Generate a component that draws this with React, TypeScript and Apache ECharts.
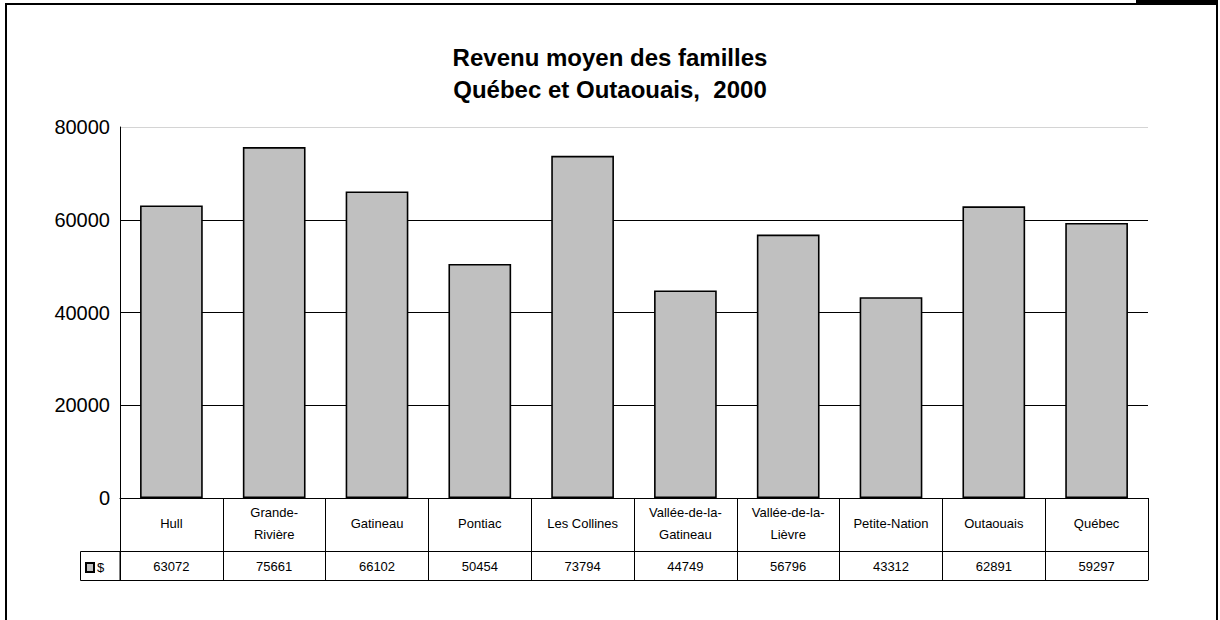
import React, { useEffect, useRef } from "react";
import * as echarts from "echarts";

const categories = [
  "Hull",
  "Grande-\nRivière",
  "Gatineau",
  "Pontiac",
  "Les Collines",
  "Vallée-de-la-\nGatineau",
  "Vallée-de-la-\nLièvre",
  "Petite-Nation",
  "Outaouais",
  "Québec",
];
const values = [63072, 75661, 66102, 50454, 73794, 44749, 56796, 43312, 62891, 59297];
const seriesName = "$";
const titleLines = ["Revenu moyen des familles", "Québec et Outaouais,  2000"];
const yTicks = { min: 0, max: 80000, interval: 20000 };

const FONT = "'Liberation Sans', Arial, sans-serif";

export default function App() {
  const ref = useRef<HTMLDivElement>(null);
  useEffect(() => {
    if (!ref.current) return;
    const chart = echarts.init(ref.current, null, { renderer: "svg" });
    chart.setOption({
      animation: false,
      backgroundColor: "#fff",
      textStyle: { fontFamily: FONT },
      title: {
        text: titleLines.join("\n"),
        left: "center",
        top: 36,
        textStyle: {
          fontFamily: FONT,
          fontSize: 24,
          fontWeight: "bold",
          color: "#000",
          lineHeight: 32,
        },
      },
      legend: {
        left: 85,
        top: 561,
        padding: 0,
        icon: "rect",
        itemWidth: 8,
        itemHeight: 9,
        itemGap: 3,
        textStyle: { fontFamily: FONT, fontSize: 13, color: "#000", padding: [0, 0, 0, -2] },
        data: [seriesName],
      },
      grid: { left: 120, right: 72, top: 127, bottom: 122, containLabel: false },
      xAxis: [
        {
          type: "category",
          data: categories,
          position: "bottom",
          axisLine: { show: true, lineStyle: { color: "#000", width: 1 } },
          axisTick: { show: true, length: 82, lineStyle: { color: "#000", width: 1 } },
          axisLabel: {
            interval: 0,
            margin: 25,
            verticalAlign: "middle",
            fontFamily: FONT,
            fontSize: 13,
            lineHeight: 22,
            color: "#000",
          },
        },
        {
          type: "category",
          data: categories,
          position: "bottom",
          offset: 53,
          axisLine: { show: true, lineStyle: { color: "#000", width: 1 } },
          axisTick: { show: false },
          axisLabel: {
            interval: 0,
            margin: 15,
            verticalAlign: "middle",
            fontFamily: FONT,
            fontSize: 13,
            color: "#000",
            formatter: (_v: string, i: number) => String(values[i]),
          },
        },
        {
          type: "category",
          data: categories,
          position: "bottom",
          offset: 82,
          axisLine: { show: true, lineStyle: { color: "#000", width: 1 } },
          axisTick: { show: false },
          axisLabel: { show: false },
        },
      ],
      yAxis: {
        type: "value",
        min: yTicks.min,
        max: yTicks.max,
        interval: yTicks.interval,
        axisLine: { show: true, lineStyle: { color: "#000", width: 1 } },
        axisTick: { show: false },
        axisLabel: {
          fontFamily: FONT,
          fontSize: 20,
          color: "#000",
          margin: 10,
          formatter: (v: number) => String(v),
        },
        splitLine: {
          show: true,
          lineStyle: { color: ["#000", "#000", "#000", "#000", "#d4d4d4"], width: 1 },
        },
      },
      series: [
        {
          name: seriesName,
          type: "bar",
          data: values,
          barCategoryGap: "39%",
          itemStyle: { color: "#c0c0c0", borderColor: "#000", borderWidth: 1.6 },
        },
      ],
      graphic: [
        {
          type: "rect",
          shape: { x: 6, y: 4, width: 1211, height: 700 },
          style: { fill: "none", stroke: "#000", lineWidth: 2 },
          silent: true,
        },
        {
          type: "rect",
          shape: { x: 1136, y: 0, width: 82, height: 5 },
          style: { fill: "#000" },
          silent: true,
        },
        {
          type: "rect",
          shape: { x: 80.5, y: 551.5, width: 39.5, height: 29 },
          style: { fill: "none", stroke: "#000", lineWidth: 1 },
          silent: true,
        },
      ],
    });
    return () => chart.dispose();
  }, []);
  return (
    <div
      ref={ref}
      style={{ position: "absolute", left: 0, top: 0, width: 1220, height: 620 }}
    />
  );
}
